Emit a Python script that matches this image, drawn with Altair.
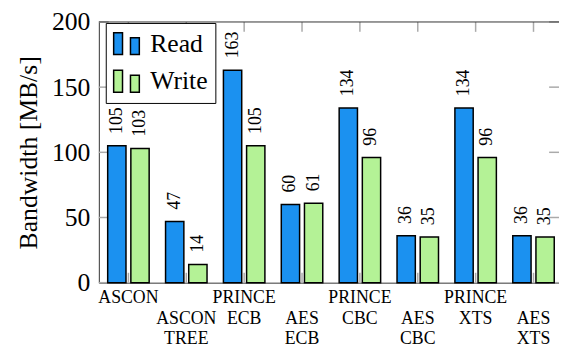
import altair as alt
import pandas as pd

categories = ["ASCON", "ASCON TREE", "PRINCE ECB", "AES ECB",
              "PRINCE CBC", "AES CBC", "PRINCE XTS", "AES XTS"]
series = ["Read", "Write"]
read_vals = [105, 47, 163, 60, 134, 36, 134, 36]
write_vals = [103, 14, 105, 61, 96, 35, 96, 35]
y_ticks = [0, 50, 100, 150, 200]
colors = ["#1b91f0", "#b4f296"]

rows = []
for c, r, w in zip(categories, read_vals, write_vals):
    rows.append({"cat": c, "series": "Read", "value": r})
    rows.append({"cat": c, "series": "Write", "value": w})
df = pd.DataFrame(rows)
cat_df = pd.DataFrame({"cat": categories})
ytick_df = pd.DataFrame({"value": y_ticks})
one_df = pd.DataFrame({"k": [0]})

W, H = 466, 264
FONT = "Liberation Serif"
TICK = "#aaaaaa"
FRAME = "#333333"
TL = 10

odd = categories[1::2]
odd_js = "[" + ",".join("'%s'" % s for s in odd) + "]"
label_expr = (f"indexof({odd_js}, datum.label) >= 0 ? "
              "split(' ' + datum.label, ' ') : split(datum.label, ' ')")

xscale = alt.Scale(domain=categories, paddingInner=0.2833, paddingOuter=0.1175,
                   align=0.65, round=False)
yscale = alt.Scale(domain=[0, 200], nice=False, zero=True)

x_axis = alt.Axis(title=None, labelExpr=label_expr, labelAngle=0, labelFont=FONT,
                  labelFontSize=18, labelColor="black", labelLineHeight=20.5,
                  labelBaseline="top", labelPadding=6.5, labelOverlap=False,
                  ticks=False, tickSize=0, domainColor=FRAME, domainWidth=1,
                  grid=False)
y_axis = alt.Axis(title="Bandwidth [MB/s]", values=y_ticks, titleFont=FONT,
                  titleFontSize=26, titleFontWeight="normal", titleColor="black",
                  titlePadding=10, labelFont=FONT, labelFontSize=26,
                  labelColor="black", labelPadding=9, ticks=False, tickSize=0,
                  domainColor=FRAME, domainWidth=1, grid=False)

x_enc = alt.X("cat:N", scale=xscale, sort=categories, axis=x_axis)
xo_enc = alt.XOffset("series:N", sort=series,
                     scale=alt.Scale(paddingInner=0.21, paddingOuter=0))
y_enc = alt.Y("value:Q", scale=yscale, axis=y_axis)

sym = "M-1,-0.85H-0.31V0.85H-1Z M0.31,-0.46H1V0.85H0.31Z"

bars = alt.Chart(df).mark_bar(stroke="black", strokeWidth=1.5).encode(
    x=x_enc, xOffset=xo_enc, y=y_enc,
    fill=alt.Fill("series:N", scale=alt.Scale(domain=series, range=colors),
                  legend=alt.Legend(title=None, orient="none", legendX=7, legendY=1,
                                    symbolType=sym, symbolSize=676,
                                    symbolStrokeColor="black", symbolStrokeWidth=1.5,
                                    symbolOpacity=1, labelFont=FONT, labelFontSize=26,
                                    labelColor="black", labelOffset=10, rowPadding=8,
                                    padding=7, fillColor="white", strokeColor="black")),
)

labels = alt.Chart(df).mark_text(angle=270, align="left", baseline="middle", dx=12,
                                 font=FONT, fontSize=18, color="black").encode(
    x=x_enc, xOffset=xo_enc, y=y_enc, text="value:Q"
)

xt = alt.X("cat:N", scale=xscale, sort=categories, axis=x_axis, bandPosition=0.5)
bottom_ticks = alt.Chart(cat_df).mark_rule(color=TICK, strokeWidth=1.5).encode(
    x=xt, y=alt.value(H - TL), y2=alt.value(H))
top_ticks = alt.Chart(cat_df).mark_rule(color=TICK, strokeWidth=1.5).encode(
    x=xt, y=alt.value(0), y2=alt.value(TL))
left_ticks = alt.Chart(ytick_df).mark_rule(color=TICK, strokeWidth=1.5).encode(
    y=y_enc, x=alt.value(0), x2=alt.value(TL))
right_ticks = alt.Chart(ytick_df).mark_rule(color=TICK, strokeWidth=1.5).encode(
    y=y_enc, x=alt.value(W - TL), x2=alt.value(W))
top_line = alt.Chart(one_df).mark_rule(color=FRAME, strokeWidth=1).encode(
    y=alt.value(0), x=alt.value(0), x2=alt.value(W))

chart = alt.layer(bottom_ticks, top_ticks, left_ticks, right_ticks, bars, labels,
                  top_line).properties(
    width=W, height=H,
    autosize=alt.AutoSizeParams(type="none"),
    padding={"left": 92, "top": 12, "right": 0, "bottom": 63},
).configure_view(stroke=None).configure_axis(grid=False)

chart.save("out.html", embed_options={"renderer": "svg", "actions": False})
